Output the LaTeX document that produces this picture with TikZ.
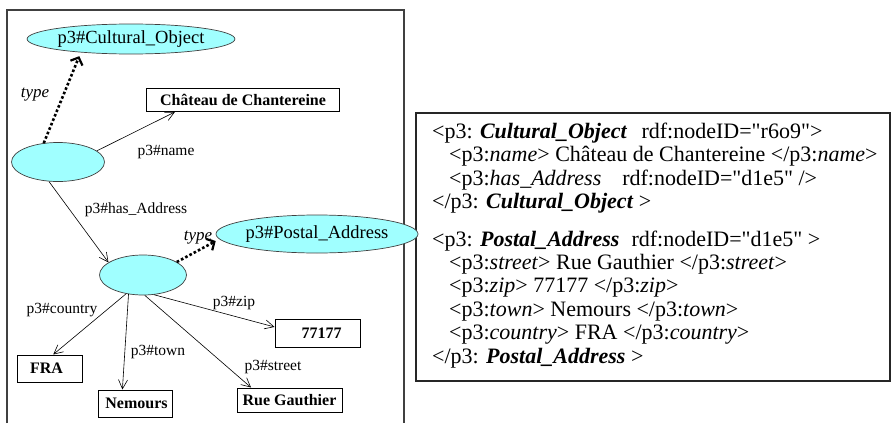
\documentclass[tikz,border=0pt]{standalone}
\usepackage{fontspec}
\setmainfont{Liberation Serif}[Ligatures=TeXOff]
\usetikzlibrary{arrows.meta,shapes.geometric}
\definecolor{cyanfill}{RGB}{160,255,255}
\newcommand{\fs}[1]{\fontsize{#1}{#1}\selectfont}
\begin{document}
\begin{tikzpicture}[x=1pt,y=-1pt,
  cls/.style={ellipse,draw=black!75,line width=0.7pt,fill=cyanfill,inner sep=0pt,font=\fs{18.5}},
  blank/.style={ellipse,draw=black!75,line width=0.7pt,fill=cyanfill,inner sep=0pt},
  lit/.style={draw=black,line width=1pt,fill=white,inner sep=0pt,font=\fs{16}\bfseries},
  elab/.style={inner sep=0pt,font=\fs{15.5}},
  tlab/.style={inner sep=0pt,font=\fs{17}\itshape},
  prop/.style={line width=0.6pt,-{Straight Barb[length=9pt,width=9pt,line width=0.6pt]}},
  typ/.style={line width=2.6pt,dash pattern=on 2.6pt off 2.2pt,shorten >=4pt,
     -{Straight Barb[length=6pt,width=13pt,line width=2.2pt]}},
  xml/.style={anchor=west,inner sep=0pt,font=\fs{22}}
]
\useasboundingbox (0,0) rectangle (894,423);
% frames
\draw[black!75,line width=1.1pt] (7,423) -- (7,10) -- (404,10) -- (404,423);
\draw[black!85,line width=1.1pt] (416,113) rectangle (890,381);

% left graph nodes
\node[cls,minimum width=189pt,minimum height=30pt] (co) at (131,39) {p3\#Cultural\_Object};
\node[lit,minimum width=193pt,minimum height=23pt] (chat) at (243,100) {Château de Chantereine};
\node[blank,minimum width=93pt,minimum height=39pt] (bn1) at (58,162) {};
\node[cls,minimum width=161pt,minimum height=38pt] (pa) at (317,234) {p3\#Postal\_Address};
\node[blank,minimum width=87pt,minimum height=40pt] (bn2) at (143,275) {};
\node[lit,minimum width=85pt,minimum height=28pt] (zip) at (317.5,333) {\hspace*{8pt}77177};
\node[lit,minimum width=65pt,minimum height=27pt] (fra) at (49.5,368.5) {FRA\hspace*{6pt}};
\node[lit,minimum width=74pt,minimum height=27pt] (nem) at (135,403.5) {\hspace*{3pt}Nemours};
\node[lit,minimum width=105pt,minimum height=24pt] (rue) at (289.5,400) {Rue Gauthier};

% edges
\draw[typ] (bn1.127) -- (co.195);
\draw[prop] (bn1.16) -- (chat.190);
\draw[prop] (bn1.245) -- (bn2.160);
\draw[typ] (bn2.21) -- (pa.183);
\draw[prop] (bn2.299) -- (zip.172);
\draw[prop] (bn2.228) -- (fra.75);
\draw[prop] (bn2.233) -- (nem.132);
\draw[prop] (bn2.275) -- (rue.162);

% edge labels
\node[tlab] (t1) at (35,95) {type};
\node[tlab] (t2) at (198,238) {type};
\node[elab] (l1) at (166,152) {p3\#name};
\node[elab] (l2) at (136,210) {p3\#has\_Address};
\node[elab] (l3) at (234,303) {p3\#zip};
\node[elab] (l4) at (62,310) {p3\#country};
\node[elab] (l5) at (158,352) {p3\#town};
\node[elab] (l6) at (273,367) {p3\#street};

% xml text
\node[xml] (x1) at (432,133) {<p3: \textbf{\textit{Cultural\_Object}}\hspace{0.4em} rdf:nodeID="r6o9">};
\node[xml] (x2) at (449,156.5) {<p3:\textit{name}> Château de Chantereine </p3:\textit{name}>};
\node[xml] (x3) at (449,180) {<p3:\textit{has\_Address}\hspace{0.7em} rdf:nodeID="d1e5" />};
\node[xml] (x4) at (432,203.5) {</p3: \textbf{\textit{Cultural\_Object}} >};
\node[xml] (x5) at (432,241) {<p3: \textbf{\textit{Postal\_Address}}\hspace{0.3em} rdf:nodeID="d1e5" >};
\node[xml] (x6) at (449,264.5) {<p3:\textit{street}> Rue Gauthier </p3:\textit{street}>};
\node[xml] (x7) at (449,288) {<p3:\textit{zip}> 77177 </p3:\textit{zip}>};
\node[xml] (x8) at (449,311.5) {<p3:\textit{town}> Nemours </p3:\textit{town}>};
\node[xml] (x9) at (449,335) {<p3:\textit{country}> FRA </p3:\textit{country}>};
\node[xml] (x10) at (432,358.5) {</p3: \textbf{\textit{Postal\_Address}} >};
\end{tikzpicture}
\end{document}
